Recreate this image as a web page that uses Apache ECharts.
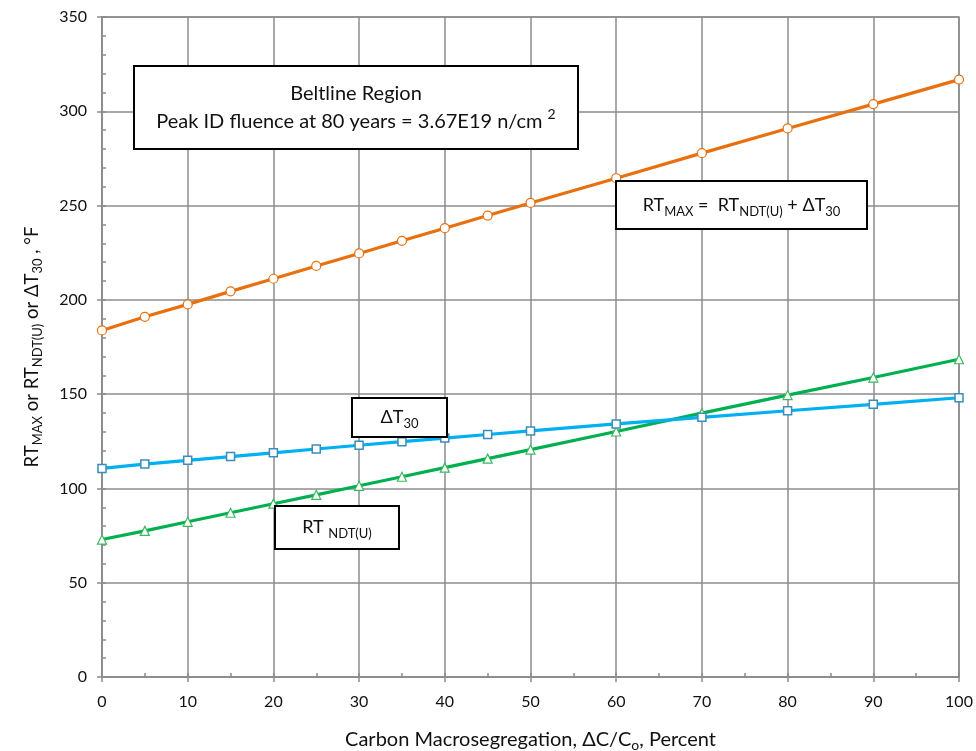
<!DOCTYPE html>
<html>
<head>
<meta charset="utf-8">
<script src="https://cdn.jsdelivr.net/npm/echarts@6/dist/echarts.min.js"></script>
<style>
  html, body { margin: 0; padding: 0; background: #fff; }
  #chart { width: 976px; height: 751px; }
</style>
</head>
<body>
<div id="chart"></div>
<script>
// Carbon macrosegregation, percent
const carbon = [0, 5, 10, 15, 20, 25, 30, 35, 40, 45, 50, 60, 70, 80, 90, 100];
// RT NDT(U), °F
const rtNdt = [72.9, 77.5, 82.3, 87.1, 91.9, 96.6, 101.4, 106.2, 111.0, 115.8, 120.6, 130.2, 139.9, 149.5, 158.8, 168.5];
// Delta T30, °F
const deltaT30 = [110.6, 112.9, 114.9, 116.9, 118.9, 120.9, 122.9, 124.8, 126.7, 128.6, 130.5, 134.2, 137.7, 141.2, 144.6, 148.1];
// RT MAX, °F
const rtMax = [183.8, 191.0, 197.6, 204.5, 211.2, 218.0, 224.6, 231.3, 238.0, 244.7, 251.4, 264.5, 277.8, 290.9, 303.8, 316.8];

const FONT = 'Lato';
const GRAY = '#8c8c8c';

const pairs = ys => carbon.map((x, i) => [x, ys[i]]);

const chart = echarts.init(document.getElementById('chart'));

const box = (x, y, w, h, text, rich, size) => ({
  type: 'group',
  left: x, top: y,
  children: [
    { type: 'rect', shape: { x: 0, y: 0, width: w, height: h },
      style: { fill: '#fff', stroke: '#000', lineWidth: 2 }, z: 100 },
    { type: 'text', x: w / 2, y: h / 2, z: 101,
      style: { text: text, rich: rich, align: 'center', verticalAlign: 'middle',
               fontFamily: FONT, fontSize: size || 18, fill: '#111', lineHeight: 28 } }
  ]
});

const subRich = {
  m: { fontSize: 18, fontFamily: FONT, fill: '#111', lineHeight: 26, verticalAlign: 'middle' },
  s: { fontSize: 13, fontFamily: FONT, fill: '#111', lineHeight: 14, verticalAlign: 'bottom' },
  p: { fontSize: 14, fontFamily: FONT, fill: '#111', lineHeight: 14, verticalAlign: 'top' }
};

const option = {
  animation: false,
  grid: {
    left: 102, right: 17, top: 17, bottom: 74,
    outerBoundsMode: 'none', containLabel: false,
    show: true, borderColor: GRAY, borderWidth: 1.5, backgroundColor: 'transparent'
  },
  xAxis: [
    {
      type: 'value', min: 0, max: 100, interval: 10,
      axisLine: { lineStyle: { color: GRAY, width: 1.5 } },
      axisTick: { show: true, length: 5, lineStyle: { color: GRAY, width: 1.5 } },
      splitLine: { show: true, lineStyle: { color: GRAY, width: 1.5 } },
      axisLabel: { color: '#111', fontFamily: FONT, fontSize: 16, margin: 17 },
      name: '{m|Carbon Macrosegregation, ΔC/C}{s|o}{m|, Percent}',
      nameLocation: 'middle', nameGap: 51,
      nameTextStyle: {
        rich: {
          m: { fontSize: 20, fontFamily: FONT, color: '#111', lineHeight: 24, verticalAlign: 'middle' },
          s: { fontSize: 14, fontFamily: FONT, color: '#111', lineHeight: 14, verticalAlign: 'bottom' }
        }
      }
    },
    {
      type: 'value', min: 0, max: 100, interval: 5, position: 'bottom', offset: 0,
      axisLine: { show: false },
      axisTick: { show: true, inside: true, length: 4, lineStyle: { color: GRAY, width: 1.5 } },
      axisLabel: { show: false },
      splitLine: { show: false }
    }
  ],
  yAxis: [
    {
      type: 'value', min: 0, max: 350, interval: 50,
      axisLine: { show: true, lineStyle: { color: GRAY, width: 1.5 } },
      axisTick: { show: true, length: 5, lineStyle: { color: GRAY, width: 1.5 } },
      splitLine: { show: true, lineStyle: { color: GRAY, width: 1.5 } },
      axisLabel: { color: '#111', fontFamily: FONT, fontSize: 16, margin: 15 },
      name: '{m|RT}{s|MAX}{m| or RT}{s|NDT(U)}{m| or ΔT}{s|30}{m| , °F}',
      nameLocation: 'middle', nameGap: 58, nameRotate: 90,
      nameTextStyle: {
        rich: {
          m: { fontSize: 18.5, fontFamily: FONT, color: '#111', lineHeight: 24, verticalAlign: 'middle' },
          s: { fontSize: 13, fontFamily: FONT, color: '#111', lineHeight: 14, verticalAlign: 'bottom' }
        }
      }
    },
    {
      type: 'value', min: 0, max: 350, interval: 10, position: 'left', offset: 0,
      axisLine: { show: false },
      axisTick: { show: true, inside: true, length: 4, lineStyle: { color: GRAY, width: 1.5 } },
      axisLabel: { show: false },
      splitLine: { show: false }
    }
  ],
  series: [
    {
      name: 'RT MAX', type: 'line', data: pairs(rtMax),
      symbol: 'circle', symbolSize: 9, z: 5,
      lineStyle: { color: '#E9700F', width: 3.2 },
      itemStyle: { color: '#fff', borderColor: '#E9700F', borderWidth: 1.2 }
    },
    {
      name: 'Delta T30', type: 'line', data: pairs(deltaT30),
      symbol: 'rect', symbolSize: 8, z: 4,
      lineStyle: { color: '#00B0F0', width: 3.2 },
      itemStyle: { color: '#fff', borderColor: '#3A8DB9', borderWidth: 1.5 }
    },
    {
      name: 'RT NDT(U)', type: 'line', data: pairs(rtNdt),
      symbol: 'triangle', symbolSize: 9, z: 3,
      lineStyle: { color: '#00B050', width: 3.2 },
      itemStyle: { color: '#fff', borderColor: '#3DB860', borderWidth: 1.2 }
    }
  ],
  graphic: [
    box(133, 65, 444, 83, 'Beltline Region\nPeak ID fluence at 80 years = 3.67E19 n/cm {p|2}', subRich, 20),
    box(615, 180, 251, 48, '{m|RT}{s|MAX}{m| =  RT}{s|NDT(U)}{m| + ΔT}{s|30}', subRich),
    box(351, 397, 95, 39, '{m|ΔT}{s|30}', subRich),
    box(274, 505, 124, 43, '{m|RT }{s|NDT(U)}', subRich)
  ]
};

chart.setOption(option);
</script>
</body>
</html>
